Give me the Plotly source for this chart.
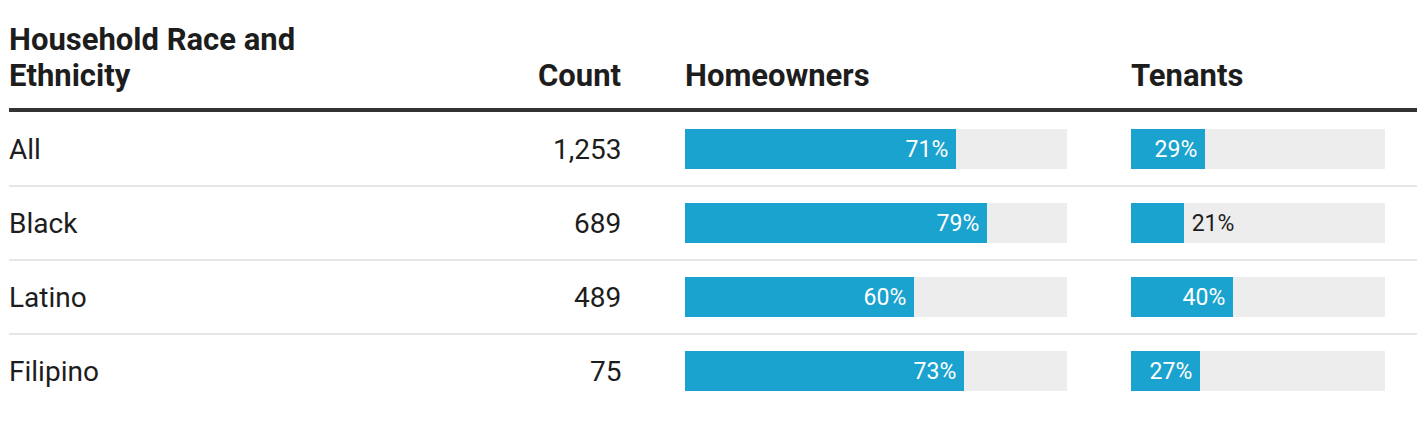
import plotly.graph_objects as go

# data
groups = ["All", "Black", "Latino", "Filipino"]
counts = [1253, 689, 489, 75]
homeowners = [71, 79, 60, 73]
tenants = [29, 21, 40, 27]

# page has an 8px body margin, so the figure sits at (8, 8)
OFF = 8
W, H = 1425 - 2 * OFF, 424 - 2 * OFF
blue = "#1aa3cf"
track = "#ededed"
ink = "#1d1d1d"
font = "Roboto"

px = lambda p: (p - OFF) / W
py = lambda p: 1 - (p - OFF) / H
ROW = 74  # pixels per row
PAD = 2   # annotation inner padding

fig = go.Figure()

def add_col(vals, xaxis):
    fig.add_trace(go.Bar(
        y=groups, x=[100] * len(groups), orientation="h", xaxis=xaxis,
        marker=dict(color=track, line=dict(width=0)), width=40 / ROW,
        hoverinfo="skip", showlegend=False))
    pos = ["inside" if v >= 25 else "outside" for v in vals]
    txt = [f"{v}%\u2009" if p == "inside" else f"\u2009{v}%" for v, p in zip(vals, pos)]
    fig.add_trace(go.Bar(
        y=groups, x=vals, orientation="h", xaxis=xaxis,
        marker=dict(color=blue, line=dict(width=0)), width=40 / ROW,
        text=txt, textposition=pos,
        insidetextanchor="end",
        insidetextfont=dict(family=font, size=23, color="white"),
        outsidetextfont=dict(family=font, size=23, color=ink),
        cliponaxis=False, hoverinfo="skip", showlegend=False))

add_col(homeowners, "x")
add_col(tenants, "x2")

ann = []
# headers
hdr = dict(xref="paper", yref="paper", yanchor="bottom", showarrow=False,
           font=dict(family=font, size=31, color=ink))
ann.append(dict(hdr, x=px(9 - PAD), y=py(60), xanchor="left",
                text="<b>Household Race and</b>"))
ann.append(dict(hdr, x=px(9 - PAD), y=py(96), xanchor="left", text="<b>Ethnicity</b>"))
ann.append(dict(hdr, x=px(621 + PAD), y=py(96), xanchor="right", text="<b>Count</b>"))
ann.append(dict(hdr, x=px(685 - PAD), y=py(96), xanchor="left", text="<b>Homeowners</b>"))
ann.append(dict(hdr, x=px(1131 - PAD), y=py(96), xanchor="left", text="<b>Tenants</b>"))

# row labels and counts
for g, c in zip(groups, counts):
    ann.append(dict(xref="paper", yref="y", x=px(9 - PAD), y=g, xanchor="left",
                    showarrow=False, text=g, font=dict(family=font, size=28, color=ink)))
    ann.append(dict(xref="paper", yref="y", x=px(621 + PAD), y=g, xanchor="right",
                    showarrow=False, text=f"{c:,}", font=dict(family=font, size=28, color=ink)))

shapes = [dict(type="line", xref="paper", yref="paper", x0=px(9), x1=px(1417),
               y0=py(110), y1=py(110), line=dict(color="#333333", width=4))]
for k in range(len(groups) - 1):
    shapes.append(dict(type="line", xref="paper", yref="y", x0=px(9), x1=px(1417),
                       y0=k + 0.5, y1=k + 0.5, line=dict(color="#e6e6e6", width=2)))

ax = dict(range=[0, 100], showgrid=False, zeroline=False, showticklabels=False,
          fixedrange=True)
top = -(149 - OFF) / ROW
fig.update_layout(
    width=W, height=H, margin=dict(l=0, r=0, t=0, b=0),
    paper_bgcolor="white", plot_bgcolor="white",
    barmode="overlay", bargap=0,
    xaxis=dict(ax, domain=[px(685), px(1067)]),
    xaxis2=dict(ax, domain=[px(1131), px(1385)], anchor="y"),
    yaxis=dict(categoryorder="array", categoryarray=groups,
               range=[top + H / ROW, top],
               showgrid=False, zeroline=False, showticklabels=False, fixedrange=True),
    annotations=ann, shapes=shapes,
    font=dict(family=font, color=ink),
)

fig.write_html("out.html", config={"displayModeBar": False})
